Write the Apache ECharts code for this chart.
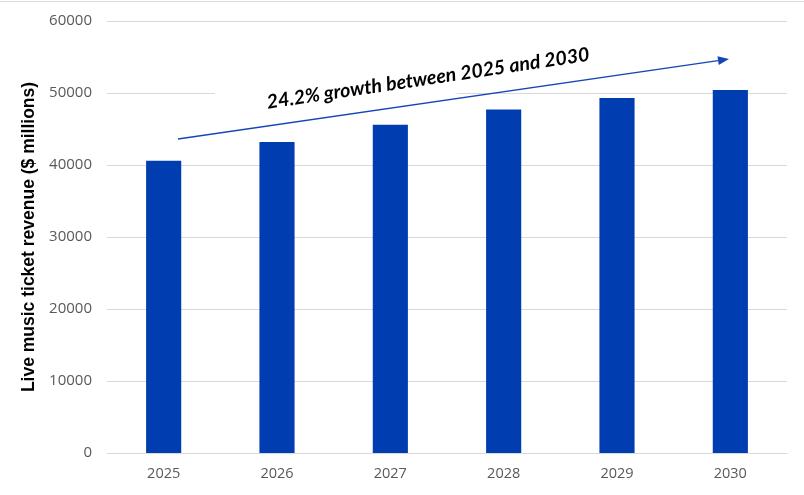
<!DOCTYPE html>
<html>
<head>
<meta charset="utf-8">
<title>Live music ticket revenue</title>
<script src="https://cdn.jsdelivr.net/npm/echarts@6.0.0/dist/echarts.min.js"></script>
<style>
    html, body { margin: 0; padding: 0; background: #fff; }
    #barChart { width: 804px; height: 495px; }
</style>
</head>
<body>
<div id="barChart"></div>
<script>
// 数据
var years = ['2025', '2026', '2027', '2028', '2029', '2030'];
var revenue = [40600, 43200, 45600, 47700, 49300, 50400];
var yTicks = [0, 10000, 20000, 30000, 40000, 50000, 60000];
var noteText = '24.2% growth between 2025 and 2030';

// 箭头 (起点 -> 终点, 像素)
var arrowGraphic = function (x1, y1, x2, y2) {
    var dx = x2 - x1, dy = y2 - y1;
    var len = Math.sqrt(dx * dx + dy * dy);
    var ux = dx / len, uy = dy / len;
    var head = 11, half = 4.5;
    var bx = x2 - ux * head, by = y2 - uy * head;
    return [
        {
            type: 'line',
            z: 20,
            shape: { x1: x1, y1: y1, x2: bx, y2: by },
            style: { stroke: '#1645b8', lineWidth: 1.3 }
        },
        {
            type: 'polygon',
            z: 20,
            shape: {
                points: [[x2, y2], [bx - uy * half, by + ux * half], [bx + uy * half, by - ux * half]]
            },
            style: { fill: '#1645b8' }
        }
    ];
};

var myBarChart = function () {
    var BarChart = echarts.init(document.getElementById('barChart'));
    var option = {
        animation: false,
        grid: {
            left: 107,
            right: 17,
            top: 21,
            bottom: 42
        },
        xAxis: {
            type: 'category',
            data: years,
            axisLine: { lineStyle: { color: '#d9d9d9', width: 1 } },
            axisTick: { show: false },
            axisLabel: {
                color: '#595959',
                fontFamily: 'Open Sans',
                fontSize: 14.5,
                margin: 13
            }
        },
        yAxis: {
            type: 'value',
            min: yTicks[0],
            max: yTicks[yTicks.length - 1],
            interval: yTicks[1] - yTicks[0],
            name: 'Live music ticket revenue ($ millions)',
            nameLocation: 'middle',
            nameRotate: 90,
            nameGap: 62,
            nameTextStyle: {
                color: '#000',
                fontFamily: 'Arial',
                fontWeight: 'bold',
                fontSize: 17.5
            },
            axisLine: { show: false },
            axisTick: { show: false },
            splitLine: { lineStyle: { color: '#d9d9d9', width: 1 } },
            axisLabel: {
                color: '#595959',
                fontFamily: 'Open Sans',
                fontSize: 15,
                margin: 15,
                formatter: function (v) { return String(v); }
            }
        },
        series: [{
            name: 'Revenue',
            type: 'bar',
            barWidth: '31%',
            data: revenue,
            itemStyle: { color: '#003db1' }
        }],
        graphic: [
            {
                // 顶部边线
                type: 'line',
                shape: { x1: 0, y1: 1.5, x2: 804, y2: 1.5 },
                style: { stroke: '#d9d9d9', lineWidth: 1 }
            },
            {
                // 注释文字 (白底)
                type: 'group',
                x: 428,
                y: 78.5,
                rotation: 0.148,
                children: [
                    {
                        type: 'rect',
                        z: 10,
                        shape: { x: -213, y: -19, width: 426, height: 38 },
                        style: { fill: '#fff' }
                    },
                    {
                        type: 'text',
                        z: 11,
                        style: {
                            text: noteText,
                            x: 0,
                            y: 0,
                            align: 'center',
                            verticalAlign: 'middle',
                            fontFamily: 'Lato',
                            fontStyle: 'italic',
                            fontWeight: 'bold',
                            fontSize: 19.5,
                            fill: '#000'
                        }
                    }
                ]
            }
        ].concat(arrowGraphic(178, 139, 729, 59))
    };
    BarChart.setOption(option);
};

myBarChart();
</script>
</body>
</html>
